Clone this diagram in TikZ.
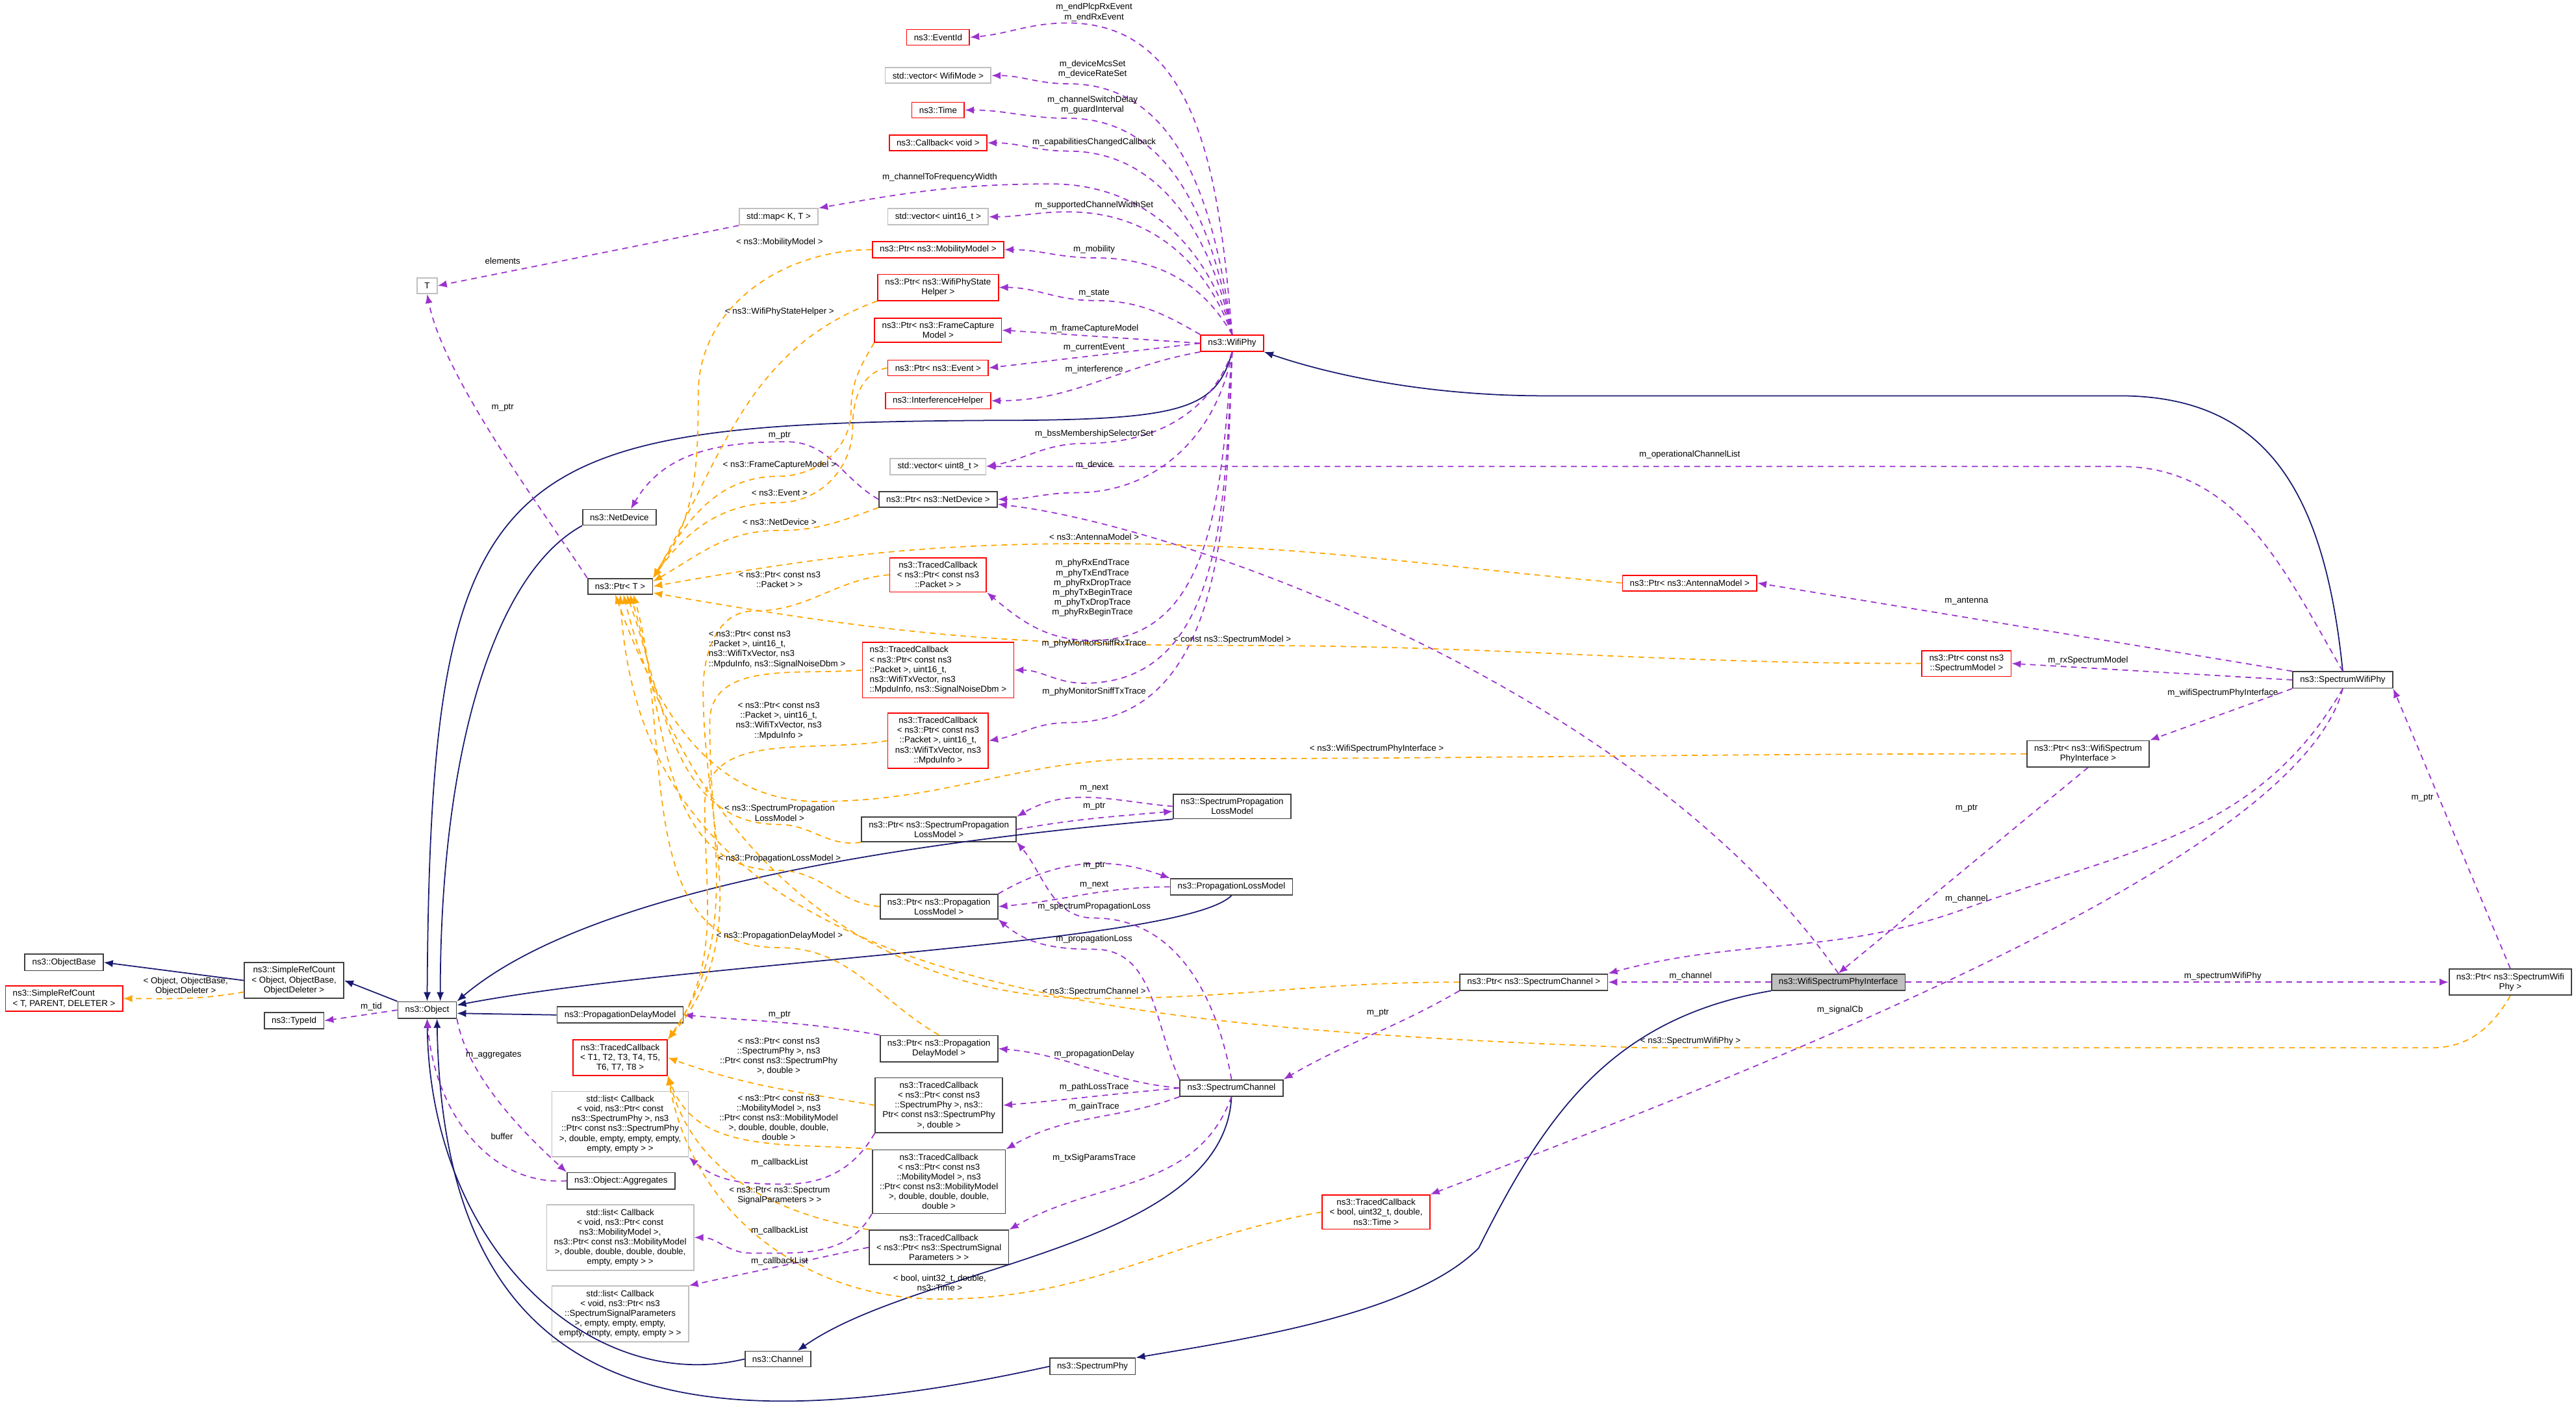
\documentclass[tikz,border=0pt]{standalone}
\usepackage{fontspec}
\setmainfont{Liberation Sans}
\usepackage{tikz}
\usetikzlibrary{arrows.meta, calc}
\definecolor{dox_navy}{RGB}{25, 25, 112}
\definecolor{dox_purple}{RGB}{154, 50, 205}
\definecolor{dox_orange}{RGB}{255, 165, 0}
\newcommand{\doxfont}{\fontsize{3.8}{4.3}\selectfont}

\begin{document}
\begin{tikzpicture}[
        x=0.02529cm, y=-0.02529cm,
        box/.style={rectangle, draw=black!75, fill=white, font=\doxfont,
                    inner xsep=3.2pt, inner ysep=1.8pt, minimum height=0.24cm,
                    align=center, line width=0.5pt},
        redbox/.style={box, draw=red},
        graybox/.style={box, draw=black!25},
        lbl/.style={font=\doxfont, align=center, inner sep=0pt},
        inh/.style={draw=dox_navy, line width=0.5pt, -{Latex[length=4pt, width=3.2pt]}},
        mem/.style={draw=dox_purple, line width=0.5pt, dash pattern=on 2.5pt off 2pt,
                    -{Latex[length=4pt, width=3.2pt]}},
        tpl/.style={draw=dox_orange, line width=0.5pt, dash pattern=on 2.5pt off 2pt,
                    -{Latex[length=4pt, width=3.2pt]}},
      ]
        \useasboundingbox (0,0) rectangle (1568,858.5);

        % classes
        \node[redbox]  (evid)   at (571,22.7)  {ns3::EventId};
        \node[graybox] (vmode)  at (571,46)    {std::vector< WifiMode >};
        \node[redbox]  (time)   at (571,67)    {ns3::Time};
        \node[redbox]  (cbvoid) at (571,87)    {ns3::Callback< void >};
        \node[graybox] (mapkt)  at (474,132)   {std::map< K, T >};
        \node[graybox] (v16)    at (571,132)   {std::vector< uint16\_t >};
        \node[redbox]  (pmob)   at (571,152)   {ns3::Ptr< ns3::MobilityModel >};
        \node[redbox]  (pstate) at (571,175)   {ns3::Ptr< ns3::WifiPhyState\\Helper >};
        \node[redbox]  (pfcap)  at (571,201)   {ns3::Ptr< ns3::FrameCapture\\Model >};
        \node[redbox]  (pevent) at (571,224)   {ns3::Ptr< ns3::Event >};
        \node[redbox]  (intf)   at (571,244)   {ns3::InterferenceHelper};
        \node[redbox]  (wphy)   at (750,209)   {ns3::WifiPhy};
        \node[graybox] (tt)     at (260,174)   {T};
        \node[graybox] (v8)     at (571,284)   {std::vector< uint8\_t >};
        \node[box]     (pnd)    at (571,304)   {ns3::Ptr< ns3::NetDevice >};
        \node[box]     (nd)     at (377,315)   {ns3::NetDevice};
        \node[box]     (ptrt)   at (377.5,357) {ns3::Ptr< T >};
        \node[redbox]  (pant)   at (1028.5,355) {ns3::Ptr< ns3::AntennaModel >};
        \node[redbox]  (tcpkt)  at (571,350)   {ns3::TracedCallback\\< ns3::Ptr< const ns3\\::Packet > >};
        \node[redbox, align=left] (tcsnr) at (571,408)
          {ns3::TracedCallback\\< ns3::Ptr< const ns3\\::Packet >, uint16\_t,\\ ns3::WifiTxVector, ns3\\::MpduInfo, ns3::SignalNoiseDbm >};
        \node[redbox]  (tcmpdu) at (571,451)
          {ns3::TracedCallback\\< ns3::Ptr< const ns3\\::Packet >, uint16\_t,\\ ns3::WifiTxVector, ns3\\::MpduInfo >};
        \node[redbox]  (psmod)  at (1197,404)  {ns3::Ptr< const ns3\\::SpectrumModel >};
        \node[box]     (swphy)  at (1426,414)  {ns3::SpectrumWifiPhy};
        \node[box]     (pwsif)  at (1271,459)  {ns3::Ptr< ns3::WifiSpectrum\\PhyInterface >};
        \node[box]     (splm)   at (750,491)   {ns3::SpectrumPropagation\\LossModel};
        \node[box]     (pspl)   at (571.5,505) {ns3::Ptr< ns3::SpectrumPropagation\\LossModel >};
        \node[box]     (plm)    at (749.6,540) {ns3::PropagationLossModel};
        \node[box]     (ppl)    at (571.5,552) {ns3::Ptr< ns3::Propagation\\LossModel >};
        \node[box, fill=black!25] (wsif) at (1119,598) {ns3::WifiSpectrumPhyInterface};
        \node[box]     (pschan) at (933.6,598) {ns3::Ptr< ns3::SpectrumChannel >};
        \node[box]     (pswphy) at (1528,598)  {ns3::Ptr< ns3::SpectrumWifi\\Phy >};
        \node[box]     (obase)  at (39,586)    {ns3::ObjectBase};
        \node[redbox, align=left] (srct) at (39,608) {ns3::SimpleRefCount\\< T, PARENT, DELETER >};
        \node[box]     (srco)   at (179,597)   {ns3::SimpleRefCount\\< Object, ObjectBase,\\ObjectDeleter >};
        \node[box]     (tid)    at (179,621.5) {ns3::TypeId};
        \node[box]     (obj)    at (260,615)   {ns3::Object};
        \node[box]     (pdm)    at (377.5,618) {ns3::PropagationDelayModel};
        \node[redbox]  (tct)    at (377.5,644) {ns3::TracedCallback\\< T1, T2, T3, T4, T5,\\ T6, T7, T8 >};
        \node[box]     (ppd)    at (571.5,638.5) {ns3::Ptr< ns3::Propagation\\DelayModel >};
        \node[box]     (schan)  at (749.6,662.5) {ns3::SpectrumChannel};
        \node[box]     (tcsph)  at (571.5,673)
          {ns3::TracedCallback\\< ns3::Ptr< const ns3\\::SpectrumPhy >, ns3::\\Ptr< const ns3::SpectrumPhy\\ >, double >};
        \node[graybox] (lsph)   at (377.5,684.5)
          {std::list< Callback\\< void, ns3::Ptr< const\\ ns3::SpectrumPhy >, ns3\\::Ptr< const ns3::SpectrumPhy\\ >, double, empty, empty, empty,\\ empty, empty > >};
        \node[box]     (aggr)   at (378,719)   {ns3::Object::Aggregates};
        \node[box]     (tcmob)  at (571.5,719.5)
          {ns3::TracedCallback\\< ns3::Ptr< const ns3\\::MobilityModel >, ns3\\::Ptr< const ns3::MobilityModel\\ >, double, double, double,\\ double >};
        \node[graybox] (lmob)   at (377.5,753.5)
          {std::list< Callback\\< void, ns3::Ptr< const\\ ns3::MobilityModel >,\\ ns3::Ptr< const ns3::MobilityModel\\ >, double, double, double, double,\\ empty, empty > >};
        \node[box]     (tcsig)  at (571.5,759.5) {ns3::TracedCallback\\< ns3::Ptr< ns3::SpectrumSignal\\Parameters > >};
        \node[graybox] (lsig)   at (377.5,800)
          {std::list< Callback\\< void, ns3::Ptr< ns3\\::SpectrumSignalParameters\\ >, empty, empty, empty,\\ empty, empty, empty, empty > >};
        \node[box]     (chan)   at (473.5,827.5) {ns3::Channel};
        \node[box]     (sphy)   at (665,832)   {ns3::SpectrumPhy};
        \node[redbox]  (tcbt)   at (837.6,738) {ns3::TracedCallback\\< bool, uint32\_t, double,\\ns3::Time >};

        % inheritance
        \draw[inh] (srco.west) -- (obase.east);
        \draw[inh] (obj.north west) -- (srco.east);
        \draw[inh] (wphy.south) .. controls (740,250) and (720,256) .. (600,256)
                   .. controls (300,258) and (262,280) .. (obj.north);
        \draw[inh] (nd.south west) .. controls (300,350) and (268,460) .. ($(obj.north)+(8,0)$);
        \draw[inh] (splm.south west) .. controls (560,512) and (360,540) .. (obj.north east);
        \draw[inh] (plm.south) .. controls (720,575) and (420,585) .. ($(obj.east)+(0,-3)$);
        \draw[inh] (pdm.west) -- ($(obj.east)+(0,2)$);
        \draw[inh] (chan.west) .. controls (360,850) and (262,760) .. (obj.south);
        \draw[inh] (sphy.west) .. controls (420,880) and (270,860) .. ($(obj.south)+(6,0)$);
        \draw[inh] (schan.south) .. controls (745,760) and (560,770) .. ($(chan.north)+(12,0)$);
        \draw[inh] (wsif.south west) .. controls (980,620) and (940,680) .. (900,760)
                   .. controls (860,800) and (760,815) .. (sphy.north east);
        \draw[inh] (swphy.north) .. controls (1415,300) and (1380,241) .. (1290,241) -- (940,241)
                   .. controls (860,241) and (800,225) .. (wphy.south east);

        % members of WifiPhy
        \draw[mem] (wphy.north) to[out=95,in=0] (650,14) to[out=180,in=5] (evid.east);
        \draw[mem] (wphy.north) to[out=98,in=0] (650,51) to[out=180,in=0] (vmode.east);
        \draw[mem] (wphy.north) to[out=100,in=0] (650,72) to[out=180,in=0] (time.east);
        \draw[mem] (wphy.north) to[out=102,in=0] (650,92) to[out=180,in=0] (cbvoid.east);
        \draw[mem] (wphy.north) to[out=105,in=0] (640,112) to[out=180,in=10] (mapkt.north east);
        \draw[mem] (wphy.north) to[out=110,in=0] (650,129) to[out=180,in=0] (v16.east);
        \draw[mem] (wphy.north) to[out=120,in=0] (666,157) to[out=180,in=0] (pmob.east);
        \draw[mem] (wphy.north west) to[out=150,in=0] (666,183) to[out=180,in=0] (pstate.east);
        \draw[mem] (wphy.west) -- (pfcap.east);
        \draw[mem] (wphy.west) -- (pevent.east);
        \draw[mem] (wphy.south west) to[out=190,in=0] (intf.east);
        \draw[mem] (wphy.south) to[out=-110,in=0] (660,270) to[out=180,in=10] (v8.east);
        \draw[mem] (wphy.south) to[out=-100,in=0] (655,300) to[out=180,in=0] (pnd.east);
        \draw[mem] (wphy.south) to[out=-95,in=0] (665,390) to[out=180,in=-40] (tcpkt.south east);
        \draw[mem] (wphy.south) to[out=-93,in=0] (660,416) to[out=180,in=0] (tcsnr.east);
        \draw[mem] (wphy.south) to[out=-92,in=0] (650,440) to[out=180,in=10] (tcmpdu.east);

        % other members
        \draw[mem] (mapkt.south west) -- (tt.east);
        \draw[mem] (ptrt.north west) .. controls (330,310) and (270,230) .. (tt.south);
        \draw[mem] (pnd.west) to[out=150,in=0] (479,269) to[out=180,in=60] ($(nd.north)+(7,0)$);
        \draw[mem] (obj.west) -- (tid.east);
        \draw[mem] (obj.south east) .. controls (285,660) and (330,700) .. (aggr.north west);
        \draw[mem] (aggr.west) .. controls (300,722) and (265,680) .. (obj.south);
        \draw[mem] (splm.west) to[out=175,in=30] (pspl.north east);
        \draw[mem] (pspl.east) to[out=10,in=185] ($(splm.west)+(0,3)$);
        \draw[mem] (ppl.north east) to[out=30,in=160] (plm.north west);
        \draw[mem] (plm.west) to[out=180,in=5] (ppl.east);
        \draw[mem] (schan.north) to[out=100,in=0] (666,559) to[out=180,in=-50] (pspl.south east);
        \draw[mem] (schan.north west) to[out=115,in=0] (666,578) to[out=180,in=-40] (ppl.south east);
        \draw[mem] (schan.west) to[out=175,in=-5] (ppd.east);
        \draw[mem] (schan.west) to[out=185,in=5] (tcsph.east);
        \draw[mem] (schan.south west) to[out=200,in=30] (tcmob.north east);
        \draw[mem] (schan.south) to[out=-110,in=30] (tcsig.north east);
        \draw[mem] (pschan.south west) to[out=-150,in=30] (schan.north east);
        \draw[mem] (ppd.north west) to[out=170,in=-5] (pdm.east);
        \draw[mem] (tcsph.south west) to[out=-120,in=0] (478,721) to[out=180,in=-40] (lsph.south east);
        \draw[mem] (tcmob.south west) to[out=-120,in=0] (457,763) to[out=180,in=0] (lmob.east);
        \draw[mem] (tcsig.west) -- (lsig.north east);
        \draw[mem] (swphy.north west) -- (pant.east);
        \draw[mem] (swphy.west) -- (psmod.east);
        \draw[mem] (swphy.south west) -- (pwsif.north east);
        \draw[mem] (swphy.south) to[out=-120,in=20] (1197,553) to[out=200,in=15] (pschan.north east);
        \draw[mem] (swphy.south) .. controls (1400,520) and (1100,640) .. (tcbt.north east);
        \draw[mem] (swphy.north) to[out=120,in=0] (1290,284) -- (v8.east);
        \draw[mem] (pwsif.south) -- (wsif.north);
        \draw[mem] (pswphy.north) -- (swphy.south east);
        \draw[mem] (wsif.west) -- (pschan.east);
        \draw[mem] (wsif.east) -- (pswphy.west);
        \draw[mem] (wsif.north) .. controls (1000,420) and (720,320) .. ($(pnd.east)+(0,3)$);

        % template instances
        \draw[tpl] ($(srco.west)+(0,7)$) to[out=190,in=0] (srct.east);
        \draw[tpl] (pmob.west) to[out=180,in=90] (425,240) to[out=-90,in=55] (ptrt.north east);
        \draw[tpl] (pstate.south west) to[out=200,in=60] (ptrt.north east);
        \draw[tpl] (pfcap.south west) to[out=-120,in=90] (518,250) to[out=-90,in=0] (474,290)
                   to[out=180,in=60] (ptrt.north east);
        \draw[tpl] (pevent.west) to[out=190,in=90] (519,260) to[out=-90,in=0] (474,306)
                   to[out=180,in=55] (ptrt.north east);
        \draw[tpl] (pnd.south west) to[out=200,in=0] (474,323) to[out=180,in=30] ($(ptrt.east)+(0,-3)$);
        \draw[tpl] (pant.west) to[out=175,in=0] (666,331) to[out=180,in=10] (ptrt.east);
        \draw[tpl] (psmod.west) to[out=180,in=0] (750,393) to[out=180,in=-10] ($(ptrt.east)+(0,4)$);
        \draw[tpl] (pwsif.west) to[out=180,in=0] (700,462) to[out=180,in=0] (498,488)
                   to[out=180,in=-70] ($(ptrt.south)+(-3,0)$);
        \draw[tpl] (pspl.south west) to[out=190,in=0] (474,502) to[out=180,in=-70] ($(ptrt.south)+(4,0)$);
        \draw[tpl] (ppl.west) to[out=175,in=0] (474,530) to[out=180,in=-72] ($(ptrt.south)+(6,0)$);
        \draw[tpl] (ppd.north) to[out=150,in=0] (474,577) to[out=180,in=-74] ($(ptrt.south)+(8,0)$);
        \draw[tpl] (pschan.west) to[out=180,in=0] (666,608) to[out=180,in=-76] ($(ptrt.south)+(2,0)$);
        \draw[tpl] (pswphy.south) to[out=-120,in=0] (1480,638) -- (1000,638)
                   .. controls (650,625) and (390,600) .. (ptrt.south);
        \draw[tpl] (tcpkt.west) to[out=185,in=0] (459,372) to[out=180,in=90] (428,420)
                   to[out=-90,in=50] (tct.north east);
        \draw[tpl] (tcsnr.west) to[out=185,in=90] (432,440) to[out=-90,in=55] (tct.north east);
        \draw[tpl] (tcmpdu.west) to[out=190,in=90] (429,490) to[out=-90,in=55] (tct.north east);
        \draw[tpl] (tcsph.west) to[out=170,in=-20] (tct.east);
        \draw[tpl] (tcmob.north west) to[out=175,in=-70] (tct.south east);
        \draw[tpl] (tcsig.north west) to[out=170,in=-75] (tct.south east);
        \draw[tpl] (tcbt.west) to[out=190,in=0] (572,791) to[out=180,in=-80] (tct.south east);

        % edge labels
        \foreach \pos/\txt [count=\i] in {
            {(666,7.5)}/{m\_endPlcpRxEvent\\m\_endRxEvent},
            {(665,42)}/{m\_deviceMcsSet\\m\_deviceRateSet},
            {(665,64)}/{m\_channelSwitchDelay\\m\_guardInterval},
            {(666,86.5)}/{m\_capabilitiesChangedCallback},
            {(572,108)}/{m\_channelToFrequencyWidth},
            {(666,125)}/{m\_supportedChannelWidthSet},
            {(666,152)}/{m\_mobility},
            {(666,178.5)}/{m\_state},
            {(666,200)}/{m\_frameCaptureModel},
            {(666,211.5)}/{m\_currentEvent},
            {(666,225)}/{m\_interference},
            {(666,264)}/{m\_bssMembershipSelectorSet},
            {(666,283)}/{m\_device},
            {(665,358)}/{m\_phyRxEndTrace\\m\_phyTxEndTrace\\m\_phyRxDropTrace\\m\_phyTxBeginTrace\\m\_phyTxDropTrace\\m\_phyRxBeginTrace},
            {(666,392)}/{m\_phyMonitorSniffRxTrace},
            {(666,421)}/{m\_phyMonitorSniffTxTrace},
            {(666,327)}/{< ns3::AntennaModel >},
            {(750,389.5)}/{< const ns3::SpectrumModel >},
            {(306,159)}/{elements},
            {(306,248)}/{m\_ptr},
            {(474.5,147.5)}/{< ns3::MobilityModel >},
            {(474.5,190)}/{< ns3::WifiPhyStateHelper >},
            {(474.5,265)}/{m\_ptr},
            {(474.5,283)}/{< ns3::FrameCaptureModel >},
            {(474.5,300)}/{< ns3::Event >},
            {(474.5,318)}/{< ns3::NetDevice >},
            {(474.5,353)}/{< ns3::Ptr< const ns3\\::Packet > >},
            {(474,439)}/{< ns3::Ptr< const ns3\\::Packet >, uint16\_t,\\ns3::WifiTxVector, ns3\\::MpduInfo >},
            {(474.5,495)}/{< ns3::SpectrumPropagation\\LossModel >},
            {(474.5,523)}/{< ns3::PropagationLossModel >},
            {(474.5,570)}/{< ns3::PropagationDelayModel >},
            {(474.5,618)}/{m\_ptr},
            {(474,643)}/{< ns3::Ptr< const ns3\\::SpectrumPhy >, ns3\\::Ptr< const ns3::SpectrumPhy\\>, double >},
            {(474,680.5)}/{< ns3::Ptr< const ns3\\::MobilityModel >, ns3\\::Ptr< const ns3::MobilityModel\\>, double, double, double,\\double >},
            {(474.5,708)}/{m\_callbackList},
            {(474.5,728)}/{< ns3::Ptr< ns3::Spectrum\\SignalParameters > >},
            {(474.5,749.5)}/{m\_callbackList},
            {(474.5,768)}/{m\_callbackList},
            {(572,781)}/{< bool, uint32\_t, double,\\ns3::Time >},
            {(113,600.5)}/{< Object, ObjectBase,\\ObjectDeleter >},
            {(226,613)}/{m\_tid},
            {(300.5,642.5)}/{m\_aggregates},
            {(305.5,692)}/{buffer},
            {(666,480)}/{m\_next},
            {(666,491)}/{m\_ptr},
            {(666,527)}/{m\_ptr},
            {(666,539)}/{m\_next},
            {(666,552)}/{m\_spectrumPropagationLoss},
            {(666,572)}/{m\_propagationLoss},
            {(666,604)}/{< ns3::SpectrumChannel >},
            {(838.7,616.6)}/{m\_ptr},
            {(666,642)}/{m\_propagationDelay},
            {(666,662)}/{m\_pathLossTrace},
            {(666,674)}/{m\_gainTrace},
            {(666,705)}/{m\_txSigParamsTrace},
            {(838,456)}/{< ns3::WifiSpectrumPhyInterface >},
            {(1197,366)}/{m\_antenna},
            {(1271,402)}/{m\_rxSpectrumModel},
            {(1353,422)}/{m\_wifiSpectrumPhyInterface},
            {(1197,492)}/{m\_ptr},
            {(1474.5,486)}/{m\_ptr},
            {(1197,547.5)}/{m\_channel},
            {(1029,594.5)}/{m\_channel},
            {(1353,594.5)}/{m\_spectrumWifiPhy},
            {(1120,615)}/{m\_signalCb},
            {(1029,634)}/{< ns3::SpectrumWifiPhy >},
            {(1028.5,277)}/{m\_operationalChannelList}}
          \node[lbl] (lab\i) at \pos {\txt};
        \node[lbl, align=left] (labsnr) at (473,395.5)
          {< ns3::Ptr< const ns3\\::Packet >, uint16\_t,\\ ns3::WifiTxVector, ns3\\::MpduInfo, ns3::SignalNoiseDbm >};
      \end{tikzpicture}
\end{document}
